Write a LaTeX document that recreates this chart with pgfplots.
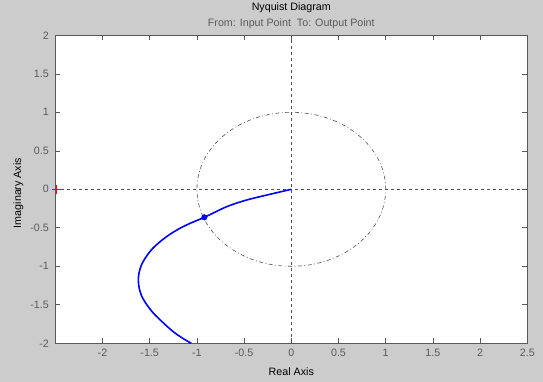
\documentclass[border=0pt]{standalone}
\usepackage{fontspec}
\setmainfont{Liberation Sans}
\usepackage{pgfplots}
\pgfplotsset{compat=1.18}
\definecolor{figbg}{RGB}{204,204,204}
\definecolor{axgrey}{RGB}{90,90,90}
\definecolor{refgrey}{RGB}{80,80,80}
\begin{document}
\fontsize{10.7bp}{12.8bp}\selectfont
\begin{tikzpicture}
\useasboundingbox (0bp,0bp) rectangle (543bp,382bp);
\fill[figbg] (0bp,0bp) rectangle (543bp,382bp);
\begin{axis}[
  at={(55.3bp,38.7bp)}, anchor=south west,
  scale only axis, width=472bp, height=308bp,
  xmin=-2.5, xmax=2.5, ymin=-2, ymax=2,
  axis background/.style={fill=white},
  axis line style={axgrey, line width=0.8bp},
  tick align=inside, major tick length=5bp,
  tick style={axgrey, line width=0.6bp},
  xtick={-2,-1.5,-1,-0.5,0,0.5,1,1.5,2,2.5},
  xticklabels={-2,-1.5,-1,-0.5,0,0.5,1,1.5,2,2.5},
  ytick={-2,-1.5,-1,-0.5,0,0.5,1,1.5,2},
  yticklabels={-2,-1.5,-1,-0.5,0,0.5,1,1.5,2},
  xticklabel style={anchor=base, yshift=-13.4bp, text=axgrey, font=\fontsize{10.7bp}{12.8bp}\selectfont},
  yticklabel style={anchor=east, xshift=-2.7bp, text=axgrey, font=\fontsize{10.7bp}{12.8bp}\selectfont},
  clip=false,
]
% reference axes through origin
\addplot[refgrey, line width=0.6bp, dash pattern=on 3bp off 3bp] coordinates {(-2.5,0) (2.5,0)};
\addplot[refgrey, line width=0.6bp, dash pattern=on 3bp off 3bp] coordinates {(0,-2) (0,2)};
% unit circle
\draw[refgrey, line width=0.6bp, dash pattern=on 4bp off 2.5bp on 0.8bp off 2.5bp] (axis cs:0,0) ellipse [x radius=1, y radius=1];
% Nyquist curve
\addplot[blue, line width=1.6bp, smooth, tension=0.5] coordinates {
(0,0) (-0.226,-0.065) (-0.473,-0.139) (-0.685,-0.226) (-0.921,-0.364)
(-1.05,-0.43) (-1.17,-0.50) (-1.28,-0.58) (-1.38,-0.67) (-1.47,-0.77)
(-1.54,-0.88) (-1.59,-0.99) (-1.615,-1.10) (-1.62,-1.19) (-1.61,-1.29)
(-1.58,-1.40) (-1.53,-1.50) (-1.46,-1.61) (-1.36,-1.73) (-1.25,-1.85)
(-1.15,-1.935) (-1.06,-2.0)
};
\addplot[blue, only marks, mark=*, mark size=2.8bp] coordinates {(-0.921,-0.364)};
\addplot[color=red, draw=red, mark=+, mark size=4.3bp, line width=1bp, mark options={draw=red, solid}] coordinates {(-2.49,0)};
\end{axis}
\node[anchor=base] at (291.3bp,371bp) {Nyquist Diagram};
\node[anchor=base, text=axgrey] at (291.3bp,355.3bp) {From: Input Point\ \ To: Output Point};
\node[anchor=base] at (291.3bp,6.7bp) {Real Axis};
\node[rotate=90, anchor=base] at (21bp,189bp) {Imaginary Axis};
\end{tikzpicture}
\end{document}
